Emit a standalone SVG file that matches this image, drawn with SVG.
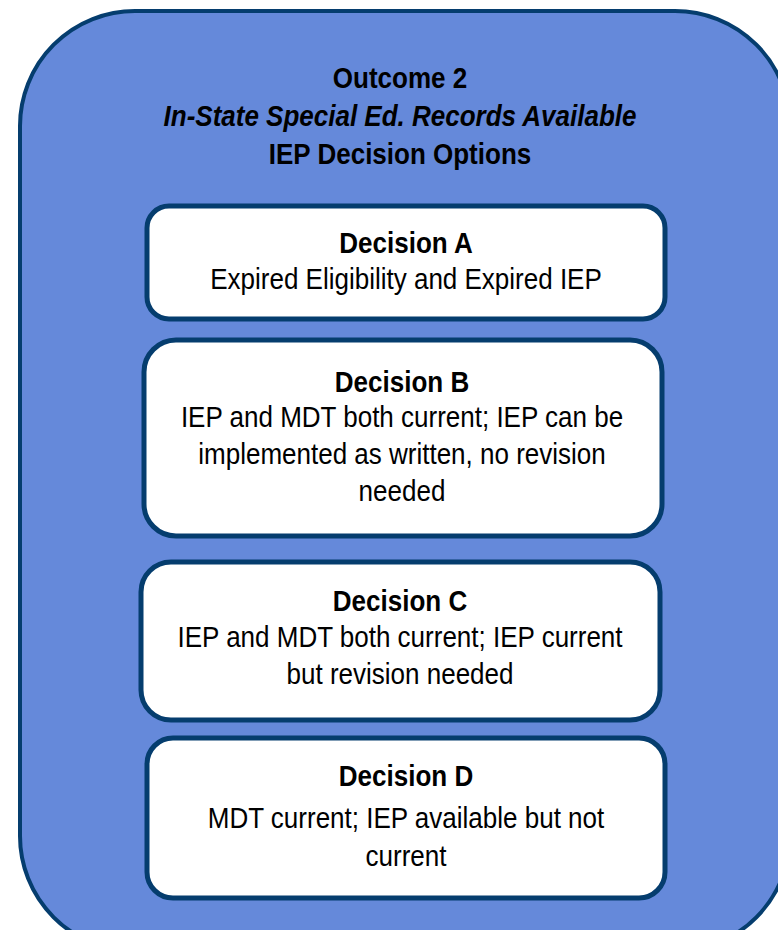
<svg xmlns="http://www.w3.org/2000/svg" width="778" height="930" viewBox="0 0 778 930">
<style>
.outer{fill:#6589da;stroke:#053d6e;stroke-width:4}
.box{fill:#ffffff;stroke:#053d6e;stroke-width:5}
text{font-family:"Liberation Sans","Arial",sans-serif;font-size:30px;fill:#000;text-anchor:middle}
.b{font-weight:bold}
.i{font-style:italic;font-weight:bold}
</style>
<g id="outcome">
<rect class="outer" x="20" y="11" width="770" height="940" rx="115" ry="115"/>
<g transform="translate(400 0) scale(0.867 1)">
<text class="b" x="0" y="88">Outcome 2</text>
<text class="i" x="0" y="126">In-State Special Ed. Records Available</text>
<text class="b" x="0" y="164">IEP Decision Options</text>
</g>
</g>
<g id="connectors"></g>
<g id="decisionA">
<rect class="box" x="147" y="206" width="518" height="113" rx="22" ry="22"/>
<g transform="translate(406 0) scale(0.867 1)">
<text class="b" x="0" y="253">Decision A</text>
<text x="0" y="289">Expired Eligibility and Expired IEP</text>
</g>
</g>
<g id="decisionB">
<rect class="box" x="144" y="340" width="518" height="196" rx="32" ry="32"/>
<g transform="translate(402 0) scale(0.867 1)">
<text class="b" x="0" y="392">Decision B</text>
<text x="0" y="427">IEP and MDT both current; IEP can be</text>
<text x="0" y="464">implemented as written, no revision</text>
<text x="0" y="501">needed</text>
</g>
</g>
<g id="decisionC">
<rect class="box" x="141" y="562" width="519" height="158" rx="30" ry="30"/>
<g transform="translate(400 0) scale(0.867 1)">
<text class="b" x="0" y="611">Decision C</text>
<text x="0" y="647">IEP and MDT both current; IEP current</text>
<text x="0" y="684">but revision needed</text>
</g>
</g>
<g id="decisionD">
<rect class="box" x="147" y="738" width="518" height="160" rx="26" ry="26"/>
<g transform="translate(406 0) scale(0.867 1)">
<text class="b" x="0" y="786">Decision D</text>
<text x="0" y="828">MDT current; IEP available but not</text>
<text x="0" y="866">current</text>
</g>
</g>
</svg>
